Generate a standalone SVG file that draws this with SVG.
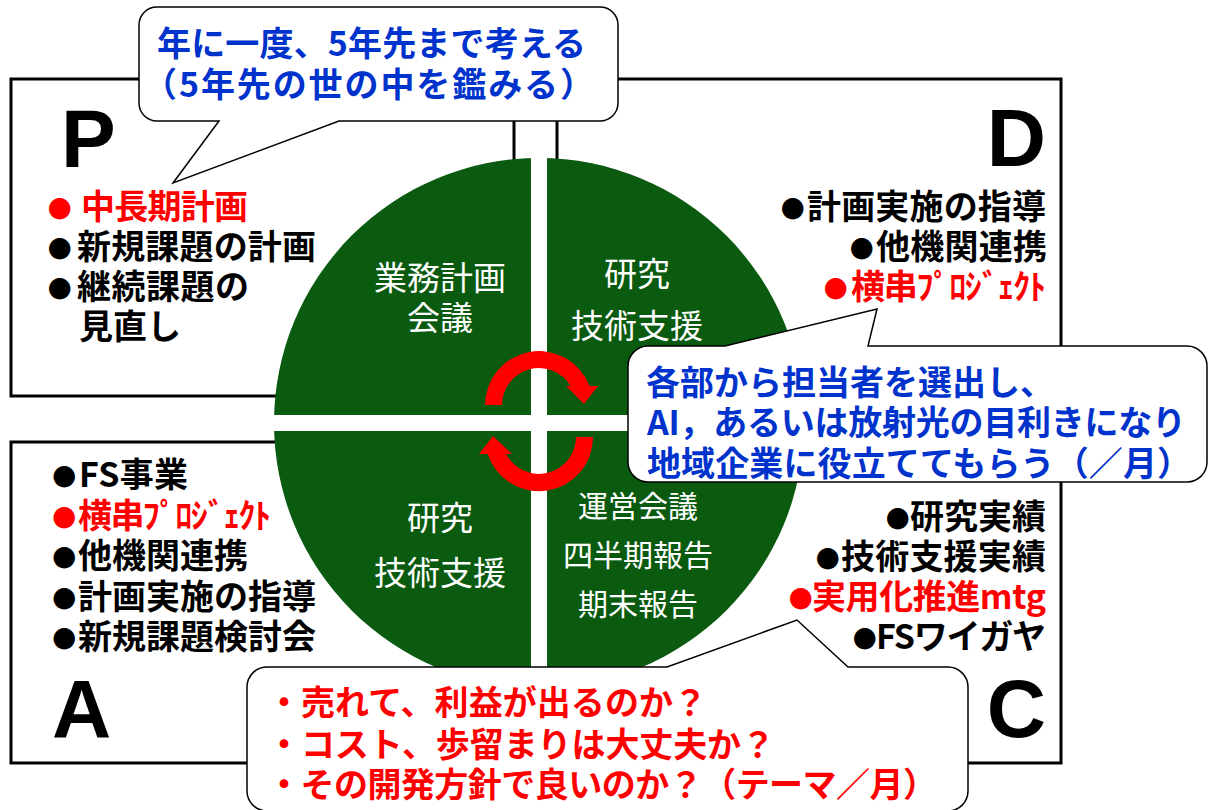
<svg xmlns="http://www.w3.org/2000/svg" width="1211" height="810" viewBox="0 0 1211 810">
<style>
.box{fill:none;stroke:#000;stroke-width:3}
.big{font-family:"Liberation Sans",Arial,sans-serif;font-weight:bold;font-size:82px;fill:#000}
.li{font-family:"Noto Sans CJK JP","Noto Sans CJK SC",sans-serif;font-weight:bold;font-size:34px;fill:#000}
.red{fill:#ff0000}
.bu{font-family:"DejaVu Sans",sans-serif;font-weight:normal;font-size:28px}
.ct{font-family:"Noto Sans CJK JP","Noto Sans CJK SC",sans-serif;font-size:33px;fill:#fff;text-anchor:middle}
.sm{font-size:30px}
.callout{fill:#fff;stroke:#000;stroke-width:1.5;stroke-linejoin:miter}
.blue{font-family:"Noto Sans CJK JP","Noto Sans CJK SC",sans-serif;font-weight:bold;font-size:34px;fill:#0033cc}
.rt{font-family:"Noto Sans CJK JP","Noto Sans CJK SC",sans-serif;font-weight:bold;font-size:34px;fill:#ff0000}
</style>
<rect width="1211" height="810" fill="#fff"/>

<g id="node-P">
<rect class="box" x="11" y="79" width="503" height="317"/>
<text class="big" x="61" y="167">P</text>
<text class="li red"><tspan class="bu" x="47.5" y="216">● </tspan><tspan x="81" y="219" textLength="167">中長期計画</tspan></text>
<text class="li"><tspan class="bu" x="47.5" y="256">●</tspan><tspan x="77" y="259" textLength="239">新規課題の計画</tspan></text>
<text class="li"><tspan class="bu" x="47.5" y="296">●</tspan><tspan x="77" y="299" textLength="172">継続課題の</tspan></text>
<text class="li" x="79" y="339">見直し</text>
</g>

<g id="node-D">
<rect class="box" x="557" y="79" width="504" height="317"/>
<text class="big" x="1046" y="166" text-anchor="end">D</text>
<text class="li"><tspan class="bu" x="780.5" y="216">●</tspan><tspan x="807" y="219" textLength="239">計画実施の指導</tspan></text>
<text class="li"><tspan class="bu" x="849.5" y="256">●</tspan><tspan x="876" y="259" textLength="171">他機関連携</tspan></text>
<text class="li red"><tspan class="bu" x="823.5" y="296">●</tspan><tspan x="851" y="299" textLength="195">横串ﾌﾟﾛｼﾞｪｸﾄ</tspan></text>
</g>

<g id="node-A">
<rect class="box" x="11" y="442" width="503" height="321"/>
<text class="big" x="52" y="737">A</text>
<text class="li"><tspan class="bu" x="52" y="484">●</tspan><tspan x="79" y="487" textLength="109">FS事業</tspan></text>
<text class="li red"><tspan class="bu" x="52" y="525">●</tspan><tspan x="78" y="528" textLength="193">横串ﾌﾟﾛｼﾞｪｸﾄ</tspan></text>
<text class="li"><tspan class="bu" x="52" y="565">●</tspan><tspan x="78" y="568" textLength="170">他機関連携</tspan></text>
<text class="li"><tspan class="bu" x="52" y="606">●</tspan><tspan x="78" y="609" textLength="238">計画実施の指導</tspan></text>
<text class="li"><tspan class="bu" x="52" y="646">●</tspan><tspan x="78" y="649" textLength="238">新規課題検討会</tspan></text>
</g>

<g id="node-C">
<rect class="box" x="557" y="442" width="504" height="321"/>
<text class="big" x="1046" y="737" text-anchor="end">C</text>
<text class="li"><tspan class="bu" x="885.5" y="526">●</tspan><tspan x="910" y="529" textLength="136">研究実績</tspan></text>
<text class="li"><tspan class="bu" x="815.5" y="566">●</tspan><tspan x="841" y="569" textLength="205">技術支援実績</tspan></text>
<text class="li red"><tspan class="bu" x="788.5" y="606">●</tspan><tspan x="812" y="609" textLength="234">実用化推進mtg</tspan></text>
<text class="li"><tspan class="bu" x="852.5" y="646">●</tspan><tspan x="876" y="649" textLength="170">FSワイガヤ</tspan></text>
</g>

<g id="node-cycle">
<circle cx="539" cy="423" r="265" fill="#0a5a10"/>
<rect x="531" y="150" width="16" height="545" fill="#fff"/>
<rect x="268" y="415" width="542" height="16" fill="#fff"/>
<text class="ct" x="440" y="290">業務計画</text>
<text class="ct" x="440" y="330">会議</text>
<text class="ct" x="637" y="286">研究</text>
<text class="ct" x="637" y="338">技術支援</text>
<text class="ct" x="440" y="530">研究</text>
<text class="ct" x="440" y="585">技術支援</text>
<text class="ct sm" x="638" y="517">運営会議</text>
<text class="ct sm" x="638" y="566">四半期報告</text>
<text class="ct sm" x="638" y="615">期末報告</text>
</g>

<g id="connectors" fill="#ff0000">
<path d="M485,405 A54,54 0 0 1 589.5,386 L570.7,386 A37,37 0 0 0 502,405 Z"/>
<polygon points="566,386 598,386 584,404"/>
<path d="M593,437 A54,54 0 0 1 487.7,454 L506.2,454 A37,37 0 0 0 576,437 Z"/>
<polygon points="479,454 512,454 493,436"/>
</g>

<g id="callout-top">
<path class="callout" d="M157,7 H600 A18,18 0 0 1 618,25 V103 A18,18 0 0 1 600,121 H339 L173,183 L219,121 H157 A18,18 0 0 1 139,103 V25 A18,18 0 0 1 157,7 Z"/>
<text class="blue" x="157" y="56" font-size="35" textLength="429">年に一度、5年先まで考える</text>
<text class="blue" x="143" y="97" font-size="35" textLength="451">（5年先の世の中を鑑みる）</text>
</g>

<g id="callout-right">
<path class="callout" d="M648,346 H725 L877,309 L868,346 H1187 A20,20 0 0 1 1207,366 V462 A20,20 0 0 1 1187,482 H648 A20,20 0 0 1 628,462 V366 A20,20 0 0 1 648,346 Z"/>
<text class="blue" x="646" y="395" textLength="408">各部から担当者を選出し、</text>
<text class="blue" x="647" y="435" textLength="539">AI，あるいは放射光の目利きになり</text>
<text class="blue" x="647" y="476" textLength="544">地域企業に役立ててもらう（／月）</text>
</g>

<g id="callout-bottom">
<path class="callout" d="M267,667 H667 L797,620 L848,667 H948 A20,20 0 0 1 968,687 V791 A20,20 0 0 1 948,811 H267 A20,20 0 0 1 247,791 V687 A20,20 0 0 1 267,667 Z"/>
<text class="rt" x="267" y="715" textLength="440">・売れて、利益が出るのか？</text>
<text class="rt" x="267" y="757" textLength="508">・コスト、歩留まりは大丈夫か？</text>
<text class="rt" x="267" y="797" textLength="670">・その開発方針で良いのか？（テーマ／月）</text>
</g>
</svg>
